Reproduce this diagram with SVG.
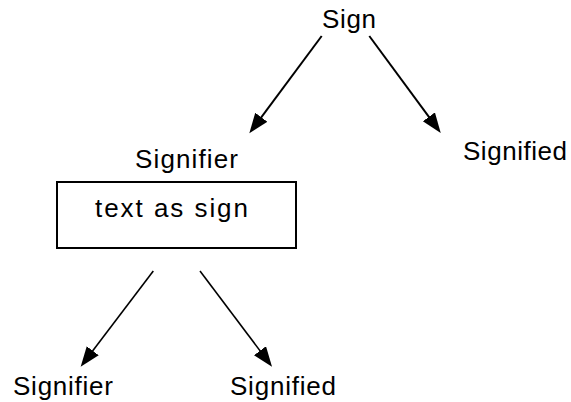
<svg xmlns="http://www.w3.org/2000/svg" width="571" height="402" viewBox="0 0 571 402">
<style>
  .lbl { font-family: "Liberation Sans", Arial, sans-serif; font-size: 26px; fill: #000; }
  .edge { fill: none; stroke: #000; }
  .box { fill: #fff; stroke: #000; stroke-width: 2; }
</style>
<defs>
  <marker id="ah" markerUnits="userSpaceOnUse" markerWidth="22" markerHeight="17" refX="10" refY="7.5" orient="auto">
    <path d="M0,0 L20,7.5 L0,15 z" fill="#000"/>
  </marker>
</defs>
<rect width="571" height="402" fill="#fff"/>
<g id="connectors">
  <path class="edge" stroke-width="2" d="M321.7,36 L255.3,125.3" marker-end="url(#ah)"/>
  <path class="edge" stroke-width="2" d="M369.3,36 L434.8,124.9" marker-end="url(#ah)"/>
  <path class="edge" stroke-width="1.6" d="M153.3,271 L86.7,358.7" marker-end="url(#ah)"/>
  <path class="edge" stroke-width="1.6" d="M200,271 L266,358.7" marker-end="url(#ah)"/>
</g>
<g id="sign">
  <text class="lbl" x="322" y="28" textLength="54">Sign</text>
</g>
<g id="signifier-top">
  <text class="lbl" x="135" y="168" textLength="103">Signifier</text>
</g>
<g id="text-as-sign">
  <rect class="box" x="57" y="182" width="239" height="66"/>
  <text class="lbl" x="95" y="217" textLength="153">text as sign</text>
</g>
<g id="signified-top">
  <text class="lbl" x="463" y="160" textLength="104">Signified</text>
</g>
<g id="signifier-bottom">
  <text class="lbl" x="13" y="395" textLength="100">Signifier</text>
</g>
<g id="signified-bottom">
  <text class="lbl" x="230" y="395" textLength="106">Signified</text>
</g>
</svg>
